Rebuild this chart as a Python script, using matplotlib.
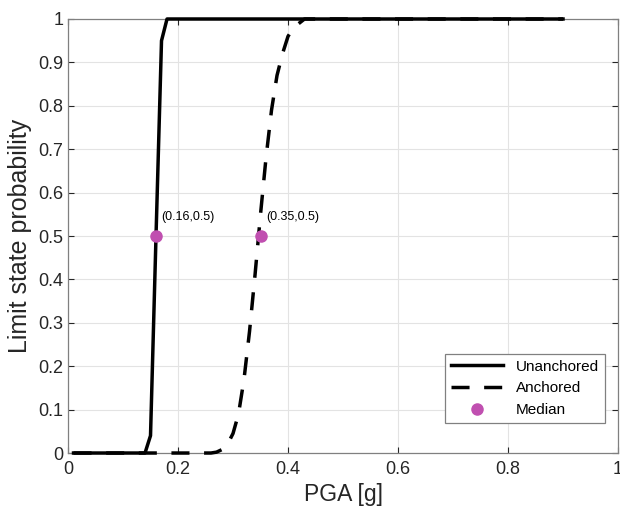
import matplotlib
matplotlib.use('Agg')
import matplotlib.pyplot as plt

# Fragility curves (breakpoints)
pga_unanch = [0.01, 0.14, 0.15, 0.16, 0.17, 0.18, 0.90]
prob_unanch = [0.0, 0.0, 0.04, 0.5, 0.95, 1.0, 1.0]

pga_anch = [0.01, 0.26, 0.27, 0.28, 0.29, 0.30, 0.31, 0.32, 0.33, 0.34, 0.35,
            0.36, 0.37, 0.38, 0.39, 0.40, 0.41, 0.42, 0.43, 0.90]
prob_anch = [0.0, 0.0, 0.002, 0.008, 0.02, 0.045, 0.09, 0.17, 0.28, 0.41, 0.55,
             0.68, 0.79, 0.87, 0.92, 0.96, 0.98, 0.99, 1.0, 1.0]

median_pga = [0.16, 0.35]
median_prob = [0.5, 0.5]
median_labels = ['(0.16,0.5)', '(0.35,0.5)']

plt.rcParams['font.family'] = ['Liberation Sans', 'DejaVu Sans']

fig = plt.figure(figsize=(6.2, 5.12), dpi=100)
ax = fig.add_axes([0.1097, 0.1152, 0.8871, 0.8477])

# anchored first so the solid curve sits on top where they overlap
ax.plot(pga_anch, prob_anch, color='k', lw=2.5, linestyle=(0, (5.2, 4.2)),
        label='Anchored', clip_on=False, zorder=3)
ax.plot(pga_unanch, prob_unanch, color='k', lw=2.5, label='Unanchored',
        clip_on=False, zorder=4)
ax.plot(median_pga, median_prob, 'o', color='#c04fb0', ms=8, ls='none',
        label='Median', zorder=5)

for x, y, s in zip(median_pga, median_prob, median_labels):
    ax.text(x + 0.01, y + 0.03, s, fontsize=9, ha='left', va='bottom')

ax.set_xlim(0, 1)
ax.set_ylim(0, 1)
ax.set_xticks([0, 0.2, 0.4, 0.6, 0.8, 1])
ax.set_xticklabels(['0', '0.2', '0.4', '0.6', '0.8', '1'])
ax.set_yticks([i / 10 for i in range(11)])
ax.set_yticklabels(['0', '0.1', '0.2', '0.3', '0.4', '0.5', '0.6', '0.7',
                    '0.8', '0.9', '1'])
ax.tick_params(direction='in', length=4, labelsize=13, colors='#262626',
               top=True, right=True)
ax.tick_params(axis='x', pad=6)
ax.grid(True, color='#e3e3e3', lw=0.8)
ax.set_axisbelow(True)
for sp in ax.spines.values():
    sp.set_color('#808080')
    sp.set_linewidth(0.9)

ax.set_xlabel('PGA [g]', fontsize=16.5, color='#262626', labelpad=3)
ax.set_ylabel('Limit state probability', fontsize=18, color='#262626', labelpad=4)

handles, labels = ax.get_legend_handles_labels()
order = [1, 0, 2]
leg = ax.legend([handles[i] for i in order], [labels[i] for i in order],
                loc='lower right', bbox_to_anchor=(0.976, 0.069),
                borderaxespad=0, fontsize=11, fancybox=False, framealpha=1,
                handlelength=3.4, edgecolor='#808080')
leg.get_frame().set_linewidth(0.9)

fig.savefig('out.png', dpi=100)
